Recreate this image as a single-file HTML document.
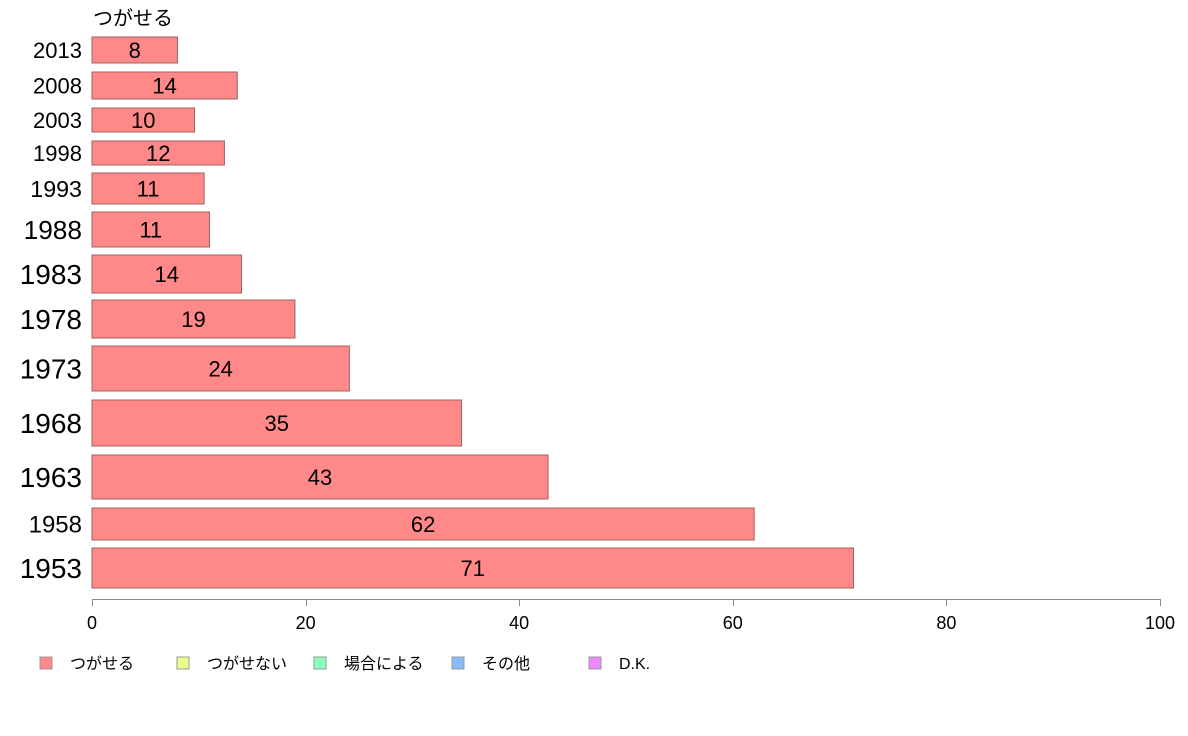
<!DOCTYPE html>
<html><head><meta charset="utf-8">
<style>
body{margin:0;background:#fff;}
svg{display:block;font-family:"Liberation Sans","Noto Sans CJK JP",sans-serif;}
</style></head>
<body>
<svg id="chart" width="1188" height="736">
<text x="93" y="25" font-size="20" fill="#000">つがせる</text>
<g id="bars"></g>
<g id="axis"></g>
<g id="legend"></g>
</svg>
<script>
const years = ["2013","2008","2003","1998","1993","1988","1983","1978","1973","1968","1963","1958","1953"];
const values = [8.0,13.6,9.6,12.4,10.5,11.0,14.0,19.0,24.1,34.6,42.7,62.0,71.3];
const valueLabels = ["8","14","10","12","11","11","14","19","24","35","43","62","71"];
const ticks = [0,20,40,60,80,100];
const legendLabels = ["つがせる","つがせない","場合による","その他","D.K."];
const legendColors = ["#ff8888","#eeff88","#88ffbb","#88bbff","#ee88ff"];
// layout (row bands, not data)
const rowTop = [37,72,108,141,173,212,255,300,346,400,455,508,548];
const rowBot = [63,99,132,165,204,247,293,338,391,446,499,540,588];
const NS="http://www.w3.org/2000/svg";
const x0=92, x1=1160;
function xs(v){return x0+(x1-x0)*v/100;}
function mk(tag,attrs,parent){const e=document.createElementNS(NS,tag);for(const k in attrs)e.setAttribute(k,attrs[k]);parent.appendChild(e);return e;}
const bars=document.getElementById('bars');
years.forEach((y,i)=>{
  const t=rowTop[i], b=rowBot[i], h=b-t, mid=(t+b)/2;
  const fs=Math.min(28,Math.max(22,h*0.75));
  const yl=mk('text',{x:82,y:mid+fs*0.36,'font-size':fs,'text-anchor':'end',fill:'#000'},bars);
  yl.textContent=y;
  
  
  const r=mk('rect',{x:x0,y:t,width:xs(values[i])-x0,height:h,fill:'#ff8888',stroke:'#a06060','stroke-width':1},bars);
  
  
  const vl=mk('text',{x:(x0+xs(values[i]))/2,y:mid+8,'font-size':22,'text-anchor':'middle',fill:'#000'},bars);
  vl.textContent=valueLabels[i];
  
  
});
const ax=document.getElementById('axis');
mk('line',{x1:x0,y1:599.5,x2:x1,y2:599.5,stroke:'#888','stroke-width':1},ax);
ticks.forEach(v=>{
  const x=Math.round(xs(v))+0.5;
  mk('line',{x1:x,y1:599,x2:x,y2:606,stroke:'#888','stroke-width':1},ax);
  const tl=mk('text',{x:xs(v),y:629,'font-size':18,'text-anchor':'middle',fill:'#000'},ax);
  tl.textContent=v;
  
  
});
const lg=document.getElementById('legend');
const lgX=[40,177,314,452,589];
legendLabels.forEach((l,i)=>{
  const s=mk('rect',{x:lgX[i],y:657,width:12,height:12,fill:legendColors[i],stroke:'#999','stroke-width':1},lg);
  
  
  const t=mk('text',{x:lgX[i]+30,y:669,'font-size':16,fill:'#000'},lg);
  t.textContent=l;
  
  
});
</script>
</body></html>
